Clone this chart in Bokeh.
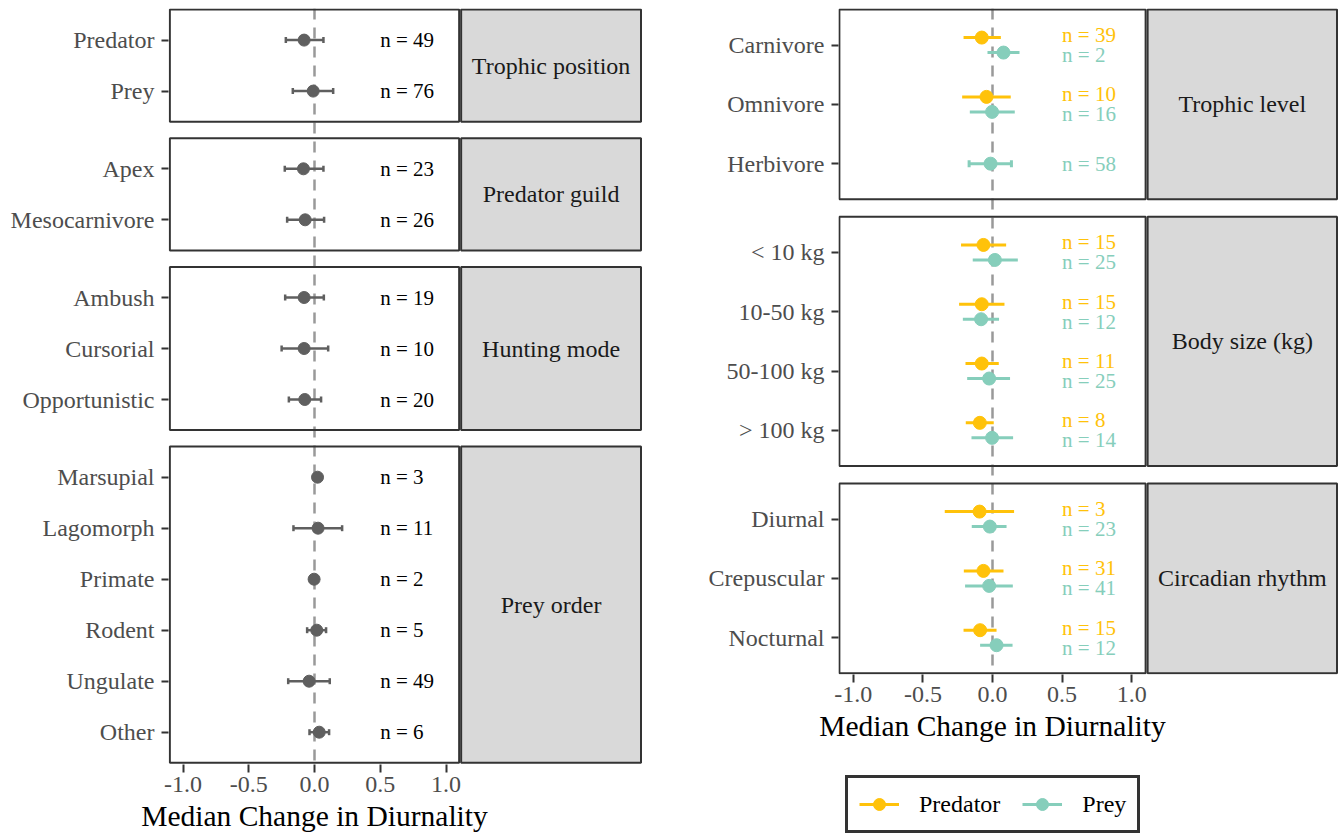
import math
from bokeh.plotting import figure
from bokeh.models import (Range1d, FixedTicker, Span, Legend, LegendItem, Title,
                          NumeralTickFormatter)
from bokeh.layouts import row, column
from bokeh.embed import file_html
from bokeh.resources import INLINE
from bokeh.core.properties import value

NAN = float("nan")

# ---------------- data: left column ----------------
left_facets = ["Trophic position", "Predator guild", "Hunting mode", "Prey order"]
left_facet_sizes = [2, 2, 3, 6]
left_categories = ["Predator", "Prey",
                   "Apex", "Mesocarnivore",
                   "Ambush", "Cursorial", "Opportunistic",
                   "Marsupial", "Lagomorph", "Primate", "Rodent", "Ungulate", "Other"]
left_median = [-0.079, -0.010, -0.084, -0.071, -0.079, -0.079, -0.074,
               0.023, 0.027, -0.003, 0.017, -0.041, 0.036]
left_low = [-0.218, -0.165, -0.226, -0.208, -0.223, -0.250, -0.195,
            0.023, -0.160, -0.003, -0.056, -0.200, -0.038]
left_high = [0.068, 0.142, 0.068, 0.073, 0.071, 0.104, 0.050,
             0.023, 0.210, -0.003, 0.088, 0.116, 0.111]
left_n = [49, 76, 23, 26, 19, 10, 20, 3, 11, 2, 5, 49, 6]

# ---------------- data: right column ----------------
right_facets = ["Trophic level", "Body size (kg)", "Circadian rhythm"]
right_facet_sizes = [3, 4, 3]
right_categories = ["Carnivore", "Omnivore", "Herbivore",
                    "< 10 kg", "10-50 kg", "50-100 kg", "> 100 kg",
                    "Diurnal", "Crepuscular", "Nocturnal"]
pred_median = [-0.077, -0.043, NAN, -0.065, -0.077, -0.077, -0.091, -0.093, -0.065, -0.089]
pred_low = [-0.208, -0.218, NAN, -0.226, -0.240, -0.194, -0.192, -0.343, -0.206, -0.208]
pred_high = [0.060, 0.131, NAN, 0.098, 0.086, 0.045, 0.009, 0.155, 0.079, 0.029]
pred_n = [39, 10, None, 15, 15, 11, 8, 3, 31, 15]
prey_median = [0.079, -0.003, -0.014, 0.017, -0.082, -0.024, -0.003, -0.019, -0.024, 0.029]
prey_low = [-0.036, -0.163, -0.168, -0.142, -0.213, -0.182, -0.151, -0.149, -0.197, -0.089]
prey_high = [0.194, 0.160, 0.136, 0.182, 0.047, 0.126, 0.148, 0.101, 0.146, 0.144]
prey_n = [2, 16, 58, 25, 12, 25, 14, 23, 41, 12]

series_names = ["Predator", "Prey"]
x_ticks = [-1.0, -0.5, 0.0, 0.5, 1.0]
x_title = "Median Change in Diurnality"

# ---------------- style ----------------
FONT = "Liberation Serif"
GREY_PT = "#5F5F5F"
PRED_COL = "#FFC20A"
PREY_COL = "#86CEBB"
BORDER = "#333333"
STRIP_FILL = "#D9D9D9"
PANEL_HALF = 1.1
LABEL_SIZE = "24px"
N_SIZE = "21px"
TITLE_SIZE = "29.5px"
TITLE_HALF_W = 173.3  # half the rendered width of the axis title, px
TOP = 8


def facet_layout(sizes, unit, gap):
    tops, bottoms, centers = [], [], []
    y = 0.0
    for s in sizes:
        h = (s - 1 + 1.2) * unit
        tops.append(y)
        bottoms.append(y + h)
        centers.extend(y + (0.6 + i) * unit for i in range(s))
        y += h + gap
    return tops, bottoms, centers


def column_figure(frame_w, frame_h, scale, zero_px, facets, tops, bottoms, centers,
                  categories, b_left, b_right, b_bottom):
    x0 = -zero_px / scale
    p = figure(frame_width=frame_w, frame_height=frame_h,
               x_range=Range1d(x0, x0 + frame_w / scale),
               y_range=Range1d(frame_h - 1, -1),
               output_backend="svg", toolbar_location=None,
               min_border_left=b_left, min_border_right=b_right,
               min_border_top=TOP, min_border_bottom=b_bottom)
    p.outline_line_color = None
    p.xgrid.visible = False
    p.ygrid.visible = False
    for ax in (p.xaxis, p.yaxis):
        ax.axis_line_color = None
        ax.major_tick_line_color = BORDER
        ax.major_tick_line_width = 2
        ax.major_tick_in = 0
        ax.minor_tick_line_color = None
        ax.major_label_text_font = FONT
        ax.major_label_text_font_size = LABEL_SIZE
        ax.major_label_text_color = "#4D4D4D"
    p.xaxis.major_tick_out = 8
    p.xaxis.major_label_standoff = 4
    p.yaxis.major_tick_out = 7
    p.yaxis.major_label_standoff = 7
    p.xaxis.ticker = FixedTicker(ticks=x_ticks)
    p.xaxis.formatter = NumeralTickFormatter(format="0.0")
    p.yaxis.ticker = FixedTicker(ticks=centers)
    p.yaxis.major_label_overrides = {c: lab for c, lab in zip(centers, categories)}

    # axis title centred under the panel (x = 0), not under panel + strip
    p.add_layout(Title(text=x_title, align="left", offset=zero_px - TITLE_HALF_W,
                       standoff=6, text_font=FONT, text_font_size=TITLE_SIZE,
                       text_font_style="normal", text_color="black"), "below")

    p.add_layout(Span(location=0, dimension="height", line_color="#999999",
                      line_width=2.5, line_dash="11 8", level="underlay"))
    # panels
    p.quad(left=-PANEL_HALF, right=PANEL_HALF, top=tops, bottom=bottoms,
           fill_color=None, line_color=BORDER, line_width=2)
    # strips
    s_left = PANEL_HALF + 2.0 / scale
    s_right = p.x_range.end - 1.5 / scale
    p.quad(left=s_left, right=s_right, top=tops, bottom=bottoms,
           fill_color=STRIP_FILL, line_color=BORDER, line_width=2)
    p.text(x=[(s_left + s_right) / 2] * len(facets),
           y=[(t + b) / 2 for t, b in zip(tops, bottoms)],
           text=facets, text_font=value(FONT), text_font_size=LABEL_SIZE,
           text_color="#1A1A1A", text_align="center", text_baseline="middle")
    return p


# ---------------- left column ----------------
l_tops, l_bottoms, l_centers = facet_layout(left_facet_sizes, 51.0, 16.5)
pl = column_figure(474, 756, 131.5, 146.0, left_facets, l_tops, l_bottoms, l_centers,
                   left_categories, 168, 8, 70)

pl.segment(x0=left_low, y0=l_centers, x1=left_high, y1=l_centers,
           line_color=GREY_PT, line_width=2.5)
for xs in (left_low, left_high):
    pl.segment(x0=xs, y0=[c - 3 for c in l_centers], x1=xs,
               y1=[c + 3 for c in l_centers], line_color=GREY_PT, line_width=2.5)
pl.scatter(x=left_median, y=l_centers, size=12, fill_color=GREY_PT, line_color=GREY_PT)
pl.text(x=[0.5] * len(left_n), y=l_centers, text=[f"n = {n}" for n in left_n],
        text_font=value(FONT), text_font_size=N_SIZE, text_color="black",
        text_align="left", text_baseline="middle")

# ---------------- right column ----------------
r_tops, r_bottoms, r_centers = facet_layout(right_facet_sizes, 59.3, 17.6)
pr = column_figure(500, 666, 139.2, 154.0, right_facets, r_tops, r_bottoms, r_centers,
                   right_categories, 188, 0, 90)

DODGE_PT = 7.5
DODGE_TXT = 10.0
pd_x, pd_lo, pd_hi, pd_y, pd_ty, pd_lab = [], [], [], [], [], []
py_x, py_lo, py_hi, py_y, py_ty, py_lab = [], [], [], [], [], []
single_lo, single_hi, single_y = [], [], []
for i, c in enumerate(r_centers):
    has_pred = not math.isnan(pred_median[i])
    has_prey = not math.isnan(prey_median[i])
    both = has_pred and has_prey
    if has_pred:
        pd_x.append(pred_median[i]); pd_lo.append(pred_low[i]); pd_hi.append(pred_high[i])
        pd_y.append(c - DODGE_PT if both else c)
        pd_ty.append(c - DODGE_TXT if both else c)
        pd_lab.append(f"n = {pred_n[i]}")
    if has_prey:
        py_x.append(prey_median[i]); py_lo.append(prey_low[i]); py_hi.append(prey_high[i])
        py_y.append(c + DODGE_PT if both else c)
        py_ty.append(c + DODGE_TXT if both else c)
        py_lab.append(f"n = {prey_n[i]}")
        if not both:
            single_lo.append(prey_low[i]); single_hi.append(prey_high[i]); single_y.append(c)

pr.segment(x0=pd_lo, y0=pd_y, x1=pd_hi, y1=pd_y, line_color=PRED_COL, line_width=3)
pr.segment(x0=py_lo, y0=py_y, x1=py_hi, y1=py_y, line_color=PREY_COL, line_width=3)
for xs in (single_lo, single_hi):
    pr.segment(x0=xs, y0=[y - 3.5 for y in single_y], x1=xs, y1=[y + 3.5 for y in single_y],
               line_color=PREY_COL, line_width=3)
pr.scatter(x=pd_x, y=pd_y, size=13, fill_color=PRED_COL, line_color=PRED_COL)
pr.scatter(x=py_x, y=py_y, size=13, fill_color=PREY_COL, line_color=PREY_COL)
pr.text(x=[0.5] * len(pd_lab), y=pd_ty, text=pd_lab, text_font=value(FONT),
        text_font_size=N_SIZE, text_color=PRED_COL, text_align="left", text_baseline="middle")
pr.text(x=[0.5] * len(py_lab), y=py_ty, text=py_lab, text_font=value(FONT),
        text_font_size=N_SIZE, text_color=PREY_COL, text_align="left", text_baseline="middle")

# ---------------- legend (own strip below the right column) ----------------
LEG_H = 834 - (TOP + 666 + 90)
lf = figure(frame_width=688, frame_height=LEG_H, x_range=Range1d(0, 1), y_range=Range1d(0, 1),
            x_axis_location=None, y_axis_location=None,
            output_backend="svg", toolbar_location=None,
            min_border_left=0, min_border_right=0, min_border_top=0, min_border_bottom=0)
lf.outline_line_color = None
lf.xgrid.visible = False
lf.ygrid.visible = False
items = []
for name, col in zip(series_names, [PRED_COL, PREY_COL]):
    seg = lf.segment(x0=[NAN], y0=[NAN], x1=[NAN], y1=[NAN], line_color=col, line_width=3)
    pt = lf.scatter(x=[NAN], y=[NAN], size=13, fill_color=col, line_color=col)
    items.append(LegendItem(label=name, renderers=[seg, pt]))
legend = Legend(items=items, orientation="horizontal", location=(195, 1), margin=0,
                padding=11, spacing=22, label_standoff=20,
                glyph_width=40, glyph_height=30,
                label_text_font=FONT, label_text_font_size="24px",
                label_text_color="black",
                border_line_color=BORDER, border_line_width=3, border_line_alpha=1.0,
                background_fill_color="white", background_fill_alpha=1.0)
lf.add_layout(legend, "center")

layout = row(pl, column(pr, lf))
open("out.html", "w").write(file_html(layout, INLINE))
